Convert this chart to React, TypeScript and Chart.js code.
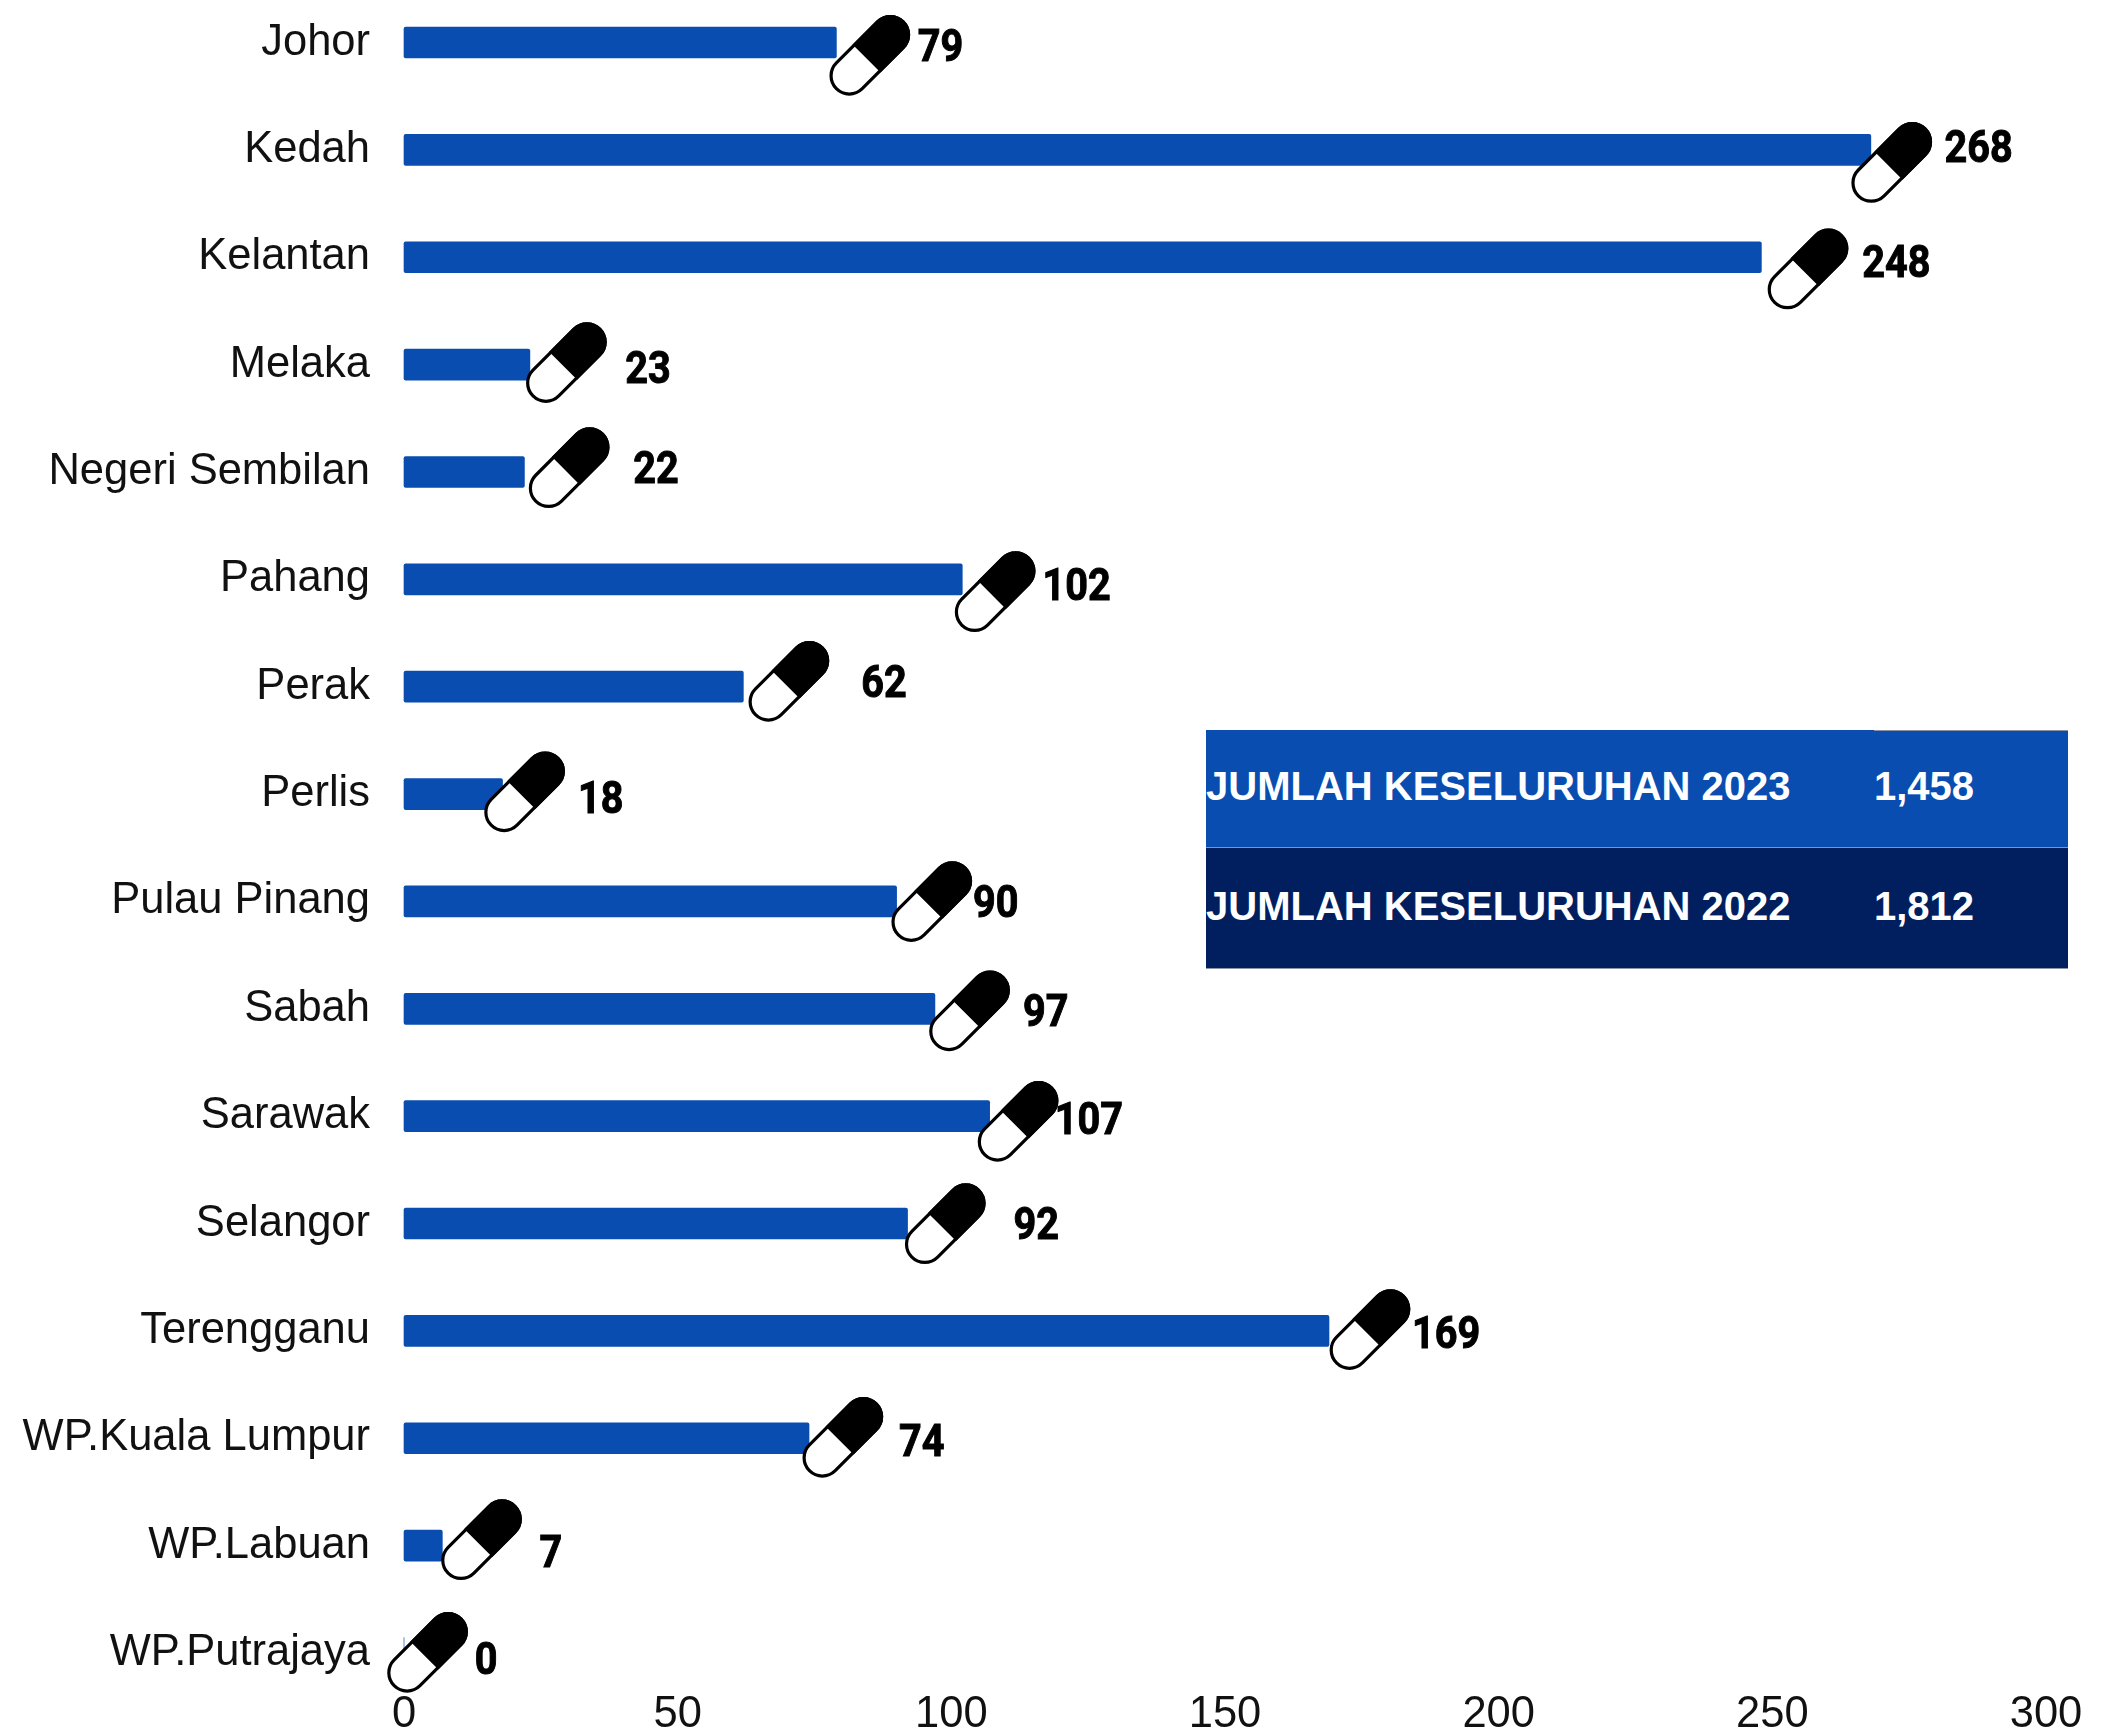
import React, { useEffect, useRef } from "react";
import { Chart, registerables } from "chart.js";

Chart.register(...registerables);

const categories = ["Johor", "Kedah", "Kelantan", "Melaka", "Negeri Sembilan", "Pahang", "Perak", "Perlis", "Pulau Pinang", "Sabah", "Sarawak", "Selangor", "Terengganu", "WP.Kuala Lumpur", "WP.Labuan", "WP.Putrajaya"];
const values = [79, 268, 248, 23, 22, 102, 62, 18, 90, 97, 107, 92, 169, 74, 7, 0];
const totalLabels = ["JUMLAH KESELURUHAN 2023", "JUMLAH KESELURUHAN 2022"];
const totalValues = ["1,458", "1,812"];

// decoration nudges relative to each bar end / row centre
const K = 1.3476;
const pillDx = [24.8, 15.5, 34.6, 27.1, 33.2, 24.4, 33.8, 16.4, 26.1, 25.7, 21.1, 28, 30.4, 25.1, 29.1, 17.5];
const pillDy = [9.5, 9.3, 8.7, -1.5, -3.2, 9.1, -4, -1.7, 0.1, 1.5, 3.8, 0.1, -1, -0.7, -4.4, -0.5];
const labelDx = [77.3, 80, 100.1, 87.6, 97.7, 84.9, 104.3, 72.9, 73.6, 82.2, 73.6, 95.5, 86.9, 83.6, 80.6, 61];
const labelDy = [3.5, -1.2, 4.2, 3.5, -2.2, 5.1, -2.5, 3.8, 1.1, 2.5, 2.8, 1.1, 2.5, 2.8, 5.1, 5.5];

function drawPill(ctx: CanvasRenderingContext2D, cx: number, cy: number) {
  const w = 36.5;
  const half = 29;
  const r = w / 2;
  ctx.save();
  ctx.translate(cx, cy);
  ctx.rotate(-Math.PI / 4);
  ctx.lineWidth = 3.2;
  ctx.strokeStyle = "#000";
  ctx.beginPath();
  ctx.moveTo(-half, -r);
  ctx.lineTo(half, -r);
  ctx.arc(half, 0, r, -Math.PI / 2, Math.PI / 2);
  ctx.lineTo(-half, r);
  ctx.arc(-half, 0, r, Math.PI / 2, -Math.PI / 2);
  ctx.closePath();
  ctx.fillStyle = "#fff";
  ctx.fill();
  ctx.stroke();
  ctx.beginPath();
  ctx.moveTo(-3, -r);
  ctx.lineTo(half, -r);
  ctx.arc(half, 0, r, -Math.PI / 2, Math.PI / 2);
  ctx.lineTo(-3, r);
  ctx.closePath();
  ctx.fillStyle = "#000";
  ctx.fill();
  ctx.stroke();
  ctx.restore();
}

const decorate = {
  id: "decorate",
  afterDatasetsDraw(chart: any) {
    const { ctx, scales } = chart;
    values.forEach((v, i) => {
      const xEnd = scales.x.getPixelForValue(v);
      const yc = scales.y.getPixelForValue(i);
      drawPill(ctx, xEnd + pillDx[i] * K, yc + pillDy[i] * K);
      ctx.save();
      ctx.translate(xEnd + labelDx[i] * K, yc + labelDy[i] * K + 3);
      ctx.scale(0.9, 1);
      ctx.font = "700 44px Roboto";
      ctx.fillStyle = "#000";
      ctx.textAlign = "center";
      ctx.textBaseline = "middle";
      ctx.strokeStyle = "#000";
      ctx.lineWidth = 1;
      ctx.fillText(String(v), 0, 0);
      ctx.strokeText(String(v), 0, 0);
      ctx.restore();
    });
  },
};

const rowStyle = (top: number, height: number, bg: string): React.CSSProperties => ({
  position: "absolute",
  left: 1206,
  top,
  width: 862,
  height,
  background: bg,
  color: "#fff",
  fontFamily: '"Liberation Sans"',
  fontWeight: 700,
  fontSize: 40,
  lineHeight: height - 5 + "px",
  borderBottom: "1px solid #8a93a8",
  boxSizing: "border-box",
});

export default function App() {
  const ref = useRef<HTMLCanvasElement>(null);
  useEffect(() => {
    const chart = new Chart(ref.current!, {
      type: "bar",
      data: {
        labels: categories,
        datasets: [{ data: values, backgroundColor: "#0a4db0", borderRadius: 2, borderSkipped: false, barThickness: 31, clip: false }],
      },
      options: {
        indexAxis: "y",
        animation: false,
        responsive: false,
        layout: { padding: { right: 67, left: 0, top: 42.5, bottom: 0 } },
        plugins: { legend: { display: false }, tooltip: { enabled: false } },
        scales: {
          x: {
            min: 0,
            max: 300,
            grid: { display: false },
            border: { display: false },
            ticks: { stepSize: 50, color: "#111", font: { family: "Liberation Sans", size: 43.5 }, padding: 28, maxRotation: 0 },
            afterFit(s: any) { s.height = 77; s.paddingLeft = 0; s.paddingRight = 0; },
          },
          y: {
            offset: false,
            grid: { display: false },
            border: { display: false },
            ticks: { color: "#111", font: { family: "Liberation Sans", size: 43.5 }, padding: 26, labelOffset: 0, autoSkip: false },
            afterFit(s: any) { s.width = 404; s.paddingTop = 0; s.paddingBottom = 0; },
          },
        },
      },
      plugins: [decorate],
    } as any);
    return () => chart.destroy();
  }, []);
  return (
    <div style={{ position: "absolute", left: 0, top: 0, width: 2113, height: 1730, overflow: "hidden", background: "#fff" }}>
      <canvas ref={ref} width={2113} height={1730} style={{ position: "absolute", left: 0, top: 0, display: "block" }} />
      {[0, 1].map((i) => (
        <div key={i} style={rowStyle(i === 0 ? 730 : 848, i === 0 ? 118 : 121, i === 0 ? "#0a4db0" : "#011f5f")}>
          <span style={{ position: "absolute", left: 0, whiteSpace: "nowrap" }}>{totalLabels[i]}</span>
          <span style={{ position: "absolute", left: 668 }}>{totalValues[i]}</span>
        </div>
      ))}
      <div style={{ position: "absolute", left: 1874, top: 730, width: 194, height: 1, background: "#8a93a8" }} />
    </div>
  );
}
